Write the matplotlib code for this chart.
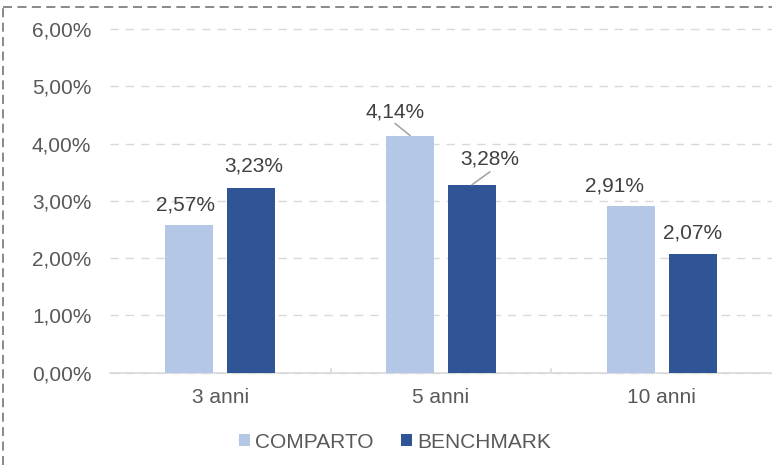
import matplotlib.pyplot as plt
import numpy as np

plt.rcParams['font.family'] = ['Liberation Sans', 'DejaVu Sans']

categories = ['3 anni', '5 anni', '10 anni']
comparto = [2.57, 4.14, 2.91]
benchmark = [3.23, 3.28, 2.07]
series_names = ['COMPARTO', 'BENCHMARK']

# label offsets in pixels (dx, dy) from bar top; leader line start offset or None
comp_offsets = [(-4, 20, None), (-15, 24, (-15, 12)), (-16, 20, None)]
bench_offsets = [(3, 22, None), (18, 26, (18, 13)), (0, 21, None)]

light = '#B4C7E7'
dark = '#2F5597'
txt = '#595959'
fs = 15

dpi = 100
fig = plt.figure(figsize=(7.72, 4.65), dpi=dpi)
ax = fig.add_axes([110 / 772, 1 - 372.7 / 465, 662 / 772, (372.7 - 29) / 465])

x = np.arange(len(categories))
w = 0.218
off = 0.14
b1 = ax.bar(x - off, comparto, w, color=light, zorder=3)
b2 = ax.bar(x + off, benchmark, w, color=dark, zorder=3)

ax.set_xlim(-0.5, 2.5)
ax.set_ylim(0, 6)
ax.set_yticks(np.arange(0, 7, 1))
ax.set_yticklabels([f'{v:.2f}%'.replace('.', ',') for v in range(7)])
ax.set_xticks(x)
ax.set_xticklabels(categories)
ax.tick_params(axis='both', length=0, labelsize=fs, labelcolor=txt)
ax.tick_params(axis='y', pad=13.5)
ax.tick_params(axis='x', pad=11)

ax.grid(axis='y', color='#D9D9D9', linestyle=(0, (6, 5)), linewidth=1, zorder=0, clip_on=False)
for s in ['top', 'right', 'left']:
    ax.spines[s].set_visible(False)
ax.spines['bottom'].set_color('#D9D9D9')
ax.spines['bottom'].set_linewidth(1.2)

# small separator ticks between categories
for xs in [0.5, 1.5]:
    ax.plot([xs, xs], [0, 0.07], color='#D9D9D9', lw=1.2, zorder=2)

pt = 72 / dpi
for bars, vals, offs in [(b1, comparto, comp_offsets), (b2, benchmark, bench_offsets)]:
    for bar, v, (dx, dy, lead) in zip(bars, vals, offs):
        xc = bar.get_x() + bar.get_width() / 2
        label = f'{v:.2f}%'.replace('.', ',')
        ax.annotate(label, (xc, v), xytext=(dx * pt, dy * pt), textcoords='offset points',
                    ha='center', va='center', fontsize=fs, color='#404040')
        if lead:
            ax.annotate('', (xc, v), xytext=(lead[0] * pt, lead[1] * pt), textcoords='offset points',
                        arrowprops=dict(arrowstyle='-', color='#A6A6A6', lw=1.2,
                                        shrinkA=0, shrinkB=0))

fig.legend([b1, b2], series_names, loc='center', bbox_to_anchor=(395 / 772, 1 - 442 / 465),
           ncol=2, frameon=False, fontsize=fs, handlelength=0.5, handleheight=0.5,
           handletextpad=0.25, columnspacing=1.35, labelcolor=txt)

# dashed outer border (left and top)
fig.add_artist(plt.Line2D([3 / 772, 3 / 772], [0, 1 - 7 / 465], color='#808080', lw=1.3,
                          linestyle=(0, (5, 3))))
fig.add_artist(plt.Line2D([3 / 772, 1], [1 - 7 / 465, 1 - 7 / 465], color='#808080', lw=1.3,
                          linestyle=(0, (5, 3))))

fig.savefig('out.png', dpi=dpi)
